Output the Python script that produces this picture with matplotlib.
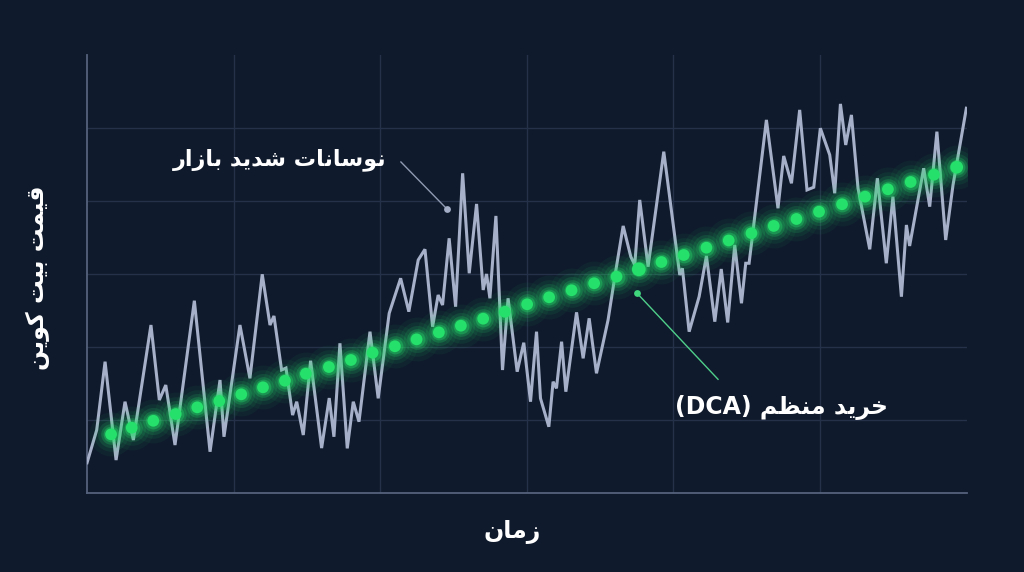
import numpy as np
import matplotlib
matplotlib.use("Agg")
import matplotlib.pyplot as plt

# ---- data (time 0..6, price 0..6) ----
market_t = [0.00, 0.066, 0.123, 0.198, 0.259, 0.316, 0.436, 0.493, 0.537, 0.600,
            0.732, 0.839, 0.907, 0.934, 1.043, 1.111, 1.195, 1.248, 1.275, 1.327,
            1.357, 1.402, 1.430, 1.475, 1.525, 1.600, 1.652, 1.684, 1.725, 1.775,
            1.816, 1.855, 1.930, 1.986, 2.061, 2.139, 2.195, 2.259, 2.305, 2.357,
            2.395, 2.425, 2.470, 2.514, 2.562, 2.607, 2.657, 2.702, 2.725, 2.748,
            2.789, 2.834, 2.872, 2.934, 2.979, 3.025, 3.066, 3.093, 3.150, 3.179,
            3.202, 3.237, 3.266, 3.339, 3.384, 3.425, 3.475, 3.554, 3.600, 3.657,
            3.709, 3.736, 3.770, 3.827, 3.934, 4.043, 4.061, 4.107, 4.175, 4.225,
            4.282, 4.326, 4.370, 4.418, 4.464, 4.493, 4.516, 4.634, 4.713, 4.752,
            4.805, 4.861, 4.911, 4.957, 5.002, 5.066, 5.100, 5.139, 5.175, 5.214,
            5.259, 5.339, 5.391, 5.452, 5.497, 5.555, 5.589, 5.611, 5.707, 5.748,
            5.797, 5.857, 5.907, 5.998]
market_p = [0.415, 0.863, 1.799, 0.452, 1.251, 0.726, 2.301, 1.274, 1.479, 0.658,
            2.634, 0.566, 1.548, 0.771, 2.301, 1.571, 2.996, 2.301, 2.425, 1.685,
            1.712, 1.068, 1.251, 0.795, 1.812, 0.616, 1.301, 0.771, 2.051, 0.612,
            1.251, 0.977, 2.210, 1.297, 2.462, 2.941, 2.484, 3.192, 3.338, 2.278,
            2.712, 2.575, 3.489, 2.552, 4.379, 3.010, 3.959, 2.781, 3.000, 2.667,
            3.795, 1.685, 2.667, 1.662, 2.059, 1.251, 2.210, 1.297, 0.908, 1.525,
            1.434, 2.073, 1.388, 2.475, 1.845, 2.393, 1.640, 2.370, 2.963, 3.658,
            3.237, 3.123, 4.014, 3.100, 4.675, 2.986, 3.078, 2.210, 2.689, 3.247,
            2.347, 3.068, 2.336, 3.397, 2.599, 3.147, 3.147, 5.110, 3.900, 4.616,
            4.242, 5.247, 4.151, 4.188, 4.996, 4.630, 4.105, 5.329, 4.767, 5.178,
            4.174, 3.338, 4.311, 3.147, 4.059, 2.689, 3.671, 3.384, 4.448, 3.922,
            4.949, 3.466, 4.219, 5.270]

dca_t = [0.164, 0.305, 0.452, 0.605, 0.752, 0.902, 1.052, 1.200, 1.350, 1.493,
         1.650, 1.800, 1.948, 2.100, 2.248, 2.400, 2.550, 2.702, 2.850, 3.002,
         3.152, 3.305, 3.459, 3.612, 3.764, 3.918, 4.070, 4.225, 4.377, 4.532,
         4.684, 4.839, 4.993, 5.150, 5.307, 5.463, 5.618, 5.777, 5.932]
dca_p = [0.804, 0.895, 0.990, 1.082, 1.174, 1.260, 1.352, 1.448, 1.538, 1.634,
         1.726, 1.822, 1.922, 2.010, 2.105, 2.201, 2.292, 2.388, 2.482, 2.585,
         2.681, 2.777, 2.873, 2.963, 3.064, 3.164, 3.260, 3.360, 3.459, 3.558,
         3.658, 3.753, 3.853, 3.955, 4.059, 4.160, 4.260, 4.360, 4.462]

label_volatility = "نوسانات شدید بازار"
label_dca = "خرید منظم"
label_x = "زمان"
label_y = "قیمت بیت کوین"

# ---- tiny Persian shaper (matplotlib has no Arabic shaping / bidi) ----
FORMS = {
    'ا': ('\uFE8D', '\uFE8E', None, None),
    'ب': ('\uFE8F', '\uFE90', '\uFE91', '\uFE92'),
    'ت': ('\uFE95', '\uFE96', '\uFE97', '\uFE98'),
    'خ': ('\uFEA5', '\uFEA6', '\uFEA7', '\uFEA8'),
    'د': ('\uFEA9', '\uFEAA', None, None),
    'ر': ('\uFEAD', '\uFEAE', None, None),
    'ز': ('\uFEAF', '\uFEB0', None, None),
    'س': ('\uFEB1', '\uFEB2', '\uFEB3', '\uFEB4'),
    'ش': ('\uFEB5', '\uFEB6', '\uFEB7', '\uFEB8'),
    'ظ': ('\uFEC5', '\uFEC6', '\uFEC7', '\uFEC8'),
    'ق': ('\uFED5', '\uFED6', '\uFED7', '\uFED8'),
    'م': ('\uFEE1', '\uFEE2', '\uFEE3', '\uFEE4'),
    'ن': ('\uFEE5', '\uFEE6', '\uFEE7', '\uFEE8'),
    'و': ('\uFEED', '\uFEEE', None, None),
    'ی': ('\uFBFC', '\uFBFD', '\uFBFE', '\uFBFF'),
    'ک': ('\uFB8E', '\uFB8F', '\uFB90', '\uFB91'),
}


def shape(text):
    out = []
    for i, ch in enumerate(text):
        if ch not in FORMS:
            out.append(ch)
            continue
        iso, fin, ini, med = FORMS[ch]
        prev = text[i - 1] if i > 0 else ''
        nxt = text[i + 1] if i + 1 < len(text) else ''
        join_prev = prev in FORMS and FORMS[prev][2] is not None
        join_next = nxt in FORMS and ini is not None
        if join_prev and join_next:
            out.append(med)
        elif join_prev:
            out.append(fin)
        elif join_next:
            out.append(ini)
        else:
            out.append(iso)
    return ''.join(reversed(out))


# ---- colours ----
BG = '#0f1a2c'
GRID = '#243149'
AXIS = '#55627c'
GRAY = '#a6b1c9'
GREEN = '#25e06a'
TEXT = '#ffffff'

plt.rcParams['font.family'] = ['DejaVu Sans']

fig = plt.figure(figsize=(10.24, 5.72), dpi=100, facecolor=BG)
ax = fig.add_axes([0.085, 0.138, 0.859, 0.766], facecolor=BG)

ax.set_xlim(0, 6)
ax.set_ylim(0, 6)
ax.set_xticks([1, 2, 3, 4, 5])
ax.set_yticks([1, 2, 3, 4, 5])
ax.tick_params(length=0, labelbottom=False, labelleft=False)
ax.grid(True, color=GRID, linewidth=1.0)
for side in ['top', 'right']:
    ax.spines[side].set_visible(False)
for side in ['left', 'bottom']:
    ax.spines[side].set_color(AXIS)
    ax.spines[side].set_linewidth(1.3)

# volatile market price
ax.plot(market_t, market_p, color=GRAY, linewidth=2.2, solid_joinstyle='miter', zorder=3)

# DCA dots with glow
for size, alpha in [(1000, 0.05), (620, 0.08), (380, 0.13), (220, 0.22), (130, 0.35)]:
    ax.scatter(dca_t, dca_p, s=size, color=GREEN, alpha=alpha, linewidths=0, zorder=4)
sizes = [72] * len(dca_t)
sizes[24] = 98
sizes[-1] = 85
ax.scatter(dca_t, dca_p, s=sizes, color=GREEN, linewidths=0, zorder=5)

# annotations
ax.plot([2.141, 2.455], [4.534, 3.890], color='#8f9ab2', linewidth=1.0, zorder=6)
ax.scatter([2.455], [3.890], s=24, color='#a3aec6', linewidths=0, zorder=6)
ax.text(1.316, 4.56, shape(label_volatility), color=TEXT, fontsize=16,
        fontweight='bold', ha='center', va='center', zorder=7)

ax.plot([3.752, 4.304], [2.736, 1.558], color='#4fcf8a', linewidth=1.0, zorder=6)
ax.scatter([3.752], [2.736], s=24, color='#3fd67c', linewidths=0, zorder=6)
ax.text(4.739, 1.178, '(DCA) ' + shape(label_dca), color=TEXT, fontsize=17,
        fontweight='bold', ha='center', va='center', zorder=7)

fig.text(0.5, 0.07, shape(label_x), color=TEXT, fontsize=17, fontweight='bold',
         ha='center', va='center')
fig.text(0.037, 0.515, shape(label_y), color=TEXT, fontsize=17, fontweight='bold',
         ha='center', va='center', rotation=90)

fig.savefig('out.png', dpi=100, facecolor=BG)
